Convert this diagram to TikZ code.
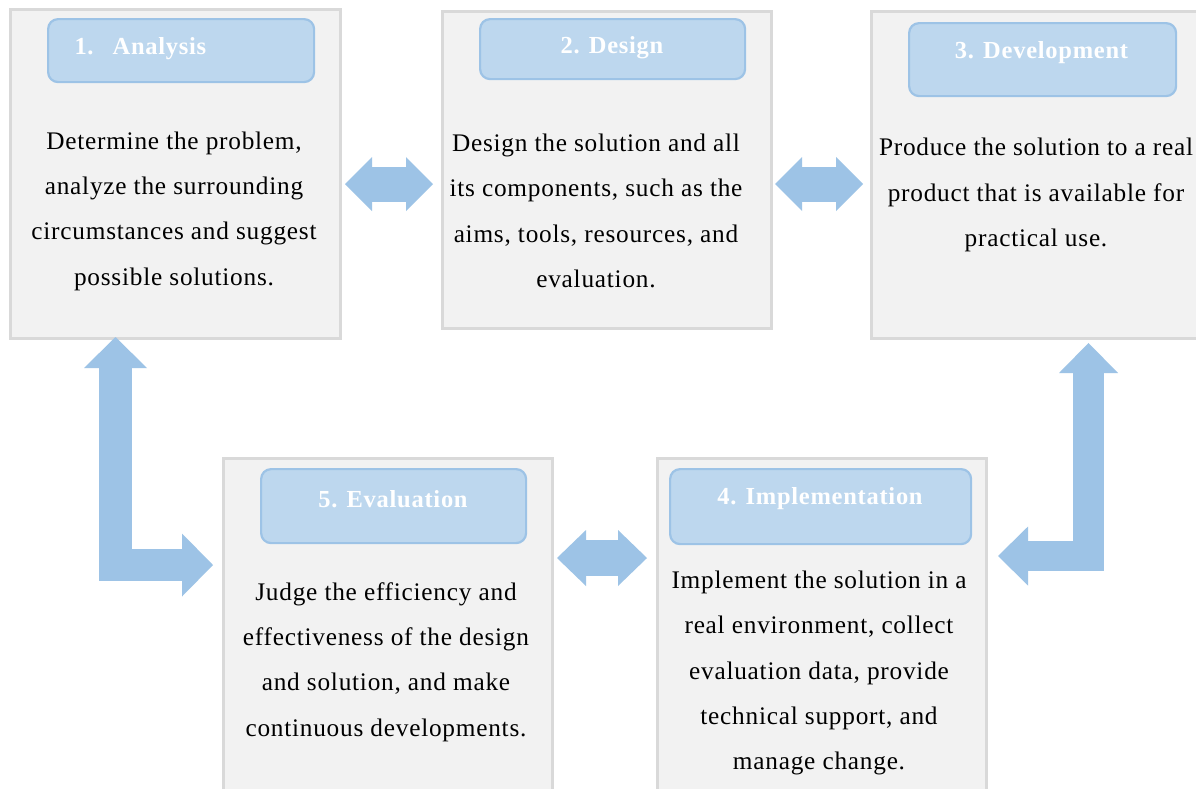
\documentclass[tikz,border=0pt]{standalone}
\usepackage{fontspec}
\setmainfont{Liberation Serif}[LetterSpace=3]
\usetikzlibrary{arrows.meta}
\definecolor{panelfill}{RGB}{242,242,242}
\definecolor{panelline}{RGB}{217,217,217}
\definecolor{headfill}{RGB}{189,215,238}
\definecolor{headline}{RGB}{157,195,230}
\definecolor{flowblue}{RGB}{157,195,230}
\tikzstyle{panel}=[draw=panelline, fill=panelfill, line width=2.5pt, anchor=north west, inner sep=0pt]
\tikzset{heading/.style={draw=headline, fill=headfill, line width=2.2pt, rounded corners=10pt, anchor=north west, inner sep=0pt}}
\tikzset{title/.style={text=white, font=\fontsize{24.5}{29}\selectfont\bfseries}}
\tikzset{body/.style={align=center, font=\fontsize{25.3}{45.3}\selectfont}}
\tikzset{flow/.style={color=flowblue, line width=#1}}

\begin{document}
\begin{tikzpicture}[x=1pt,y=-1pt]
  \useasboundingbox[fill=white] (0,0) rectangle (1196,788);

  %% Panels
  \draw (9,8) node[panel, minimum width=330pt, minimum height=329pt] (ana) {};
  \draw (441,10) node[panel, minimum width=329pt, minimum height=317pt] (des) {};
  \draw (870,10) node[panel, minimum width=340pt, minimum height=327pt] (dev) {};
  \draw (656,457) node[panel, minimum width=329pt, minimum height=350pt] (imp) {};
  \draw (222,457) node[panel, minimum width=329pt, minimum height=350pt] (eva) {};

  %% Headings
  \draw (47,18) node[heading, minimum width=266pt, minimum height=63pt] (anaH) {};
  \draw (479,18) node[heading, minimum width=265pt, minimum height=60pt] (desH) {};
  \draw (908,22) node[heading, minimum width=267pt, minimum height=73pt] (devH) {};
  \draw (669,468) node[heading, minimum width=301pt, minimum height=75pt] (impH) {};
  \draw (260,468) node[heading, minimum width=265pt, minimum height=74pt] (evaH) {};

  \draw (71,49) node[title, anchor=west] (anaT) {1.\hspace{19pt}Analysis};
  \draw (612,48) node[title] (desT) {2. Design};
  \draw (1041.5,53) node[title] (devT) {3. Development};
  \draw (820,499) node[title] (impT) {4. Implementation};
  \draw (393,499) node[title] (evaT) {5. Evaluation};

  %% Texts
  \draw (174,211) node[body] (anaB) {Determine the problem,\\analyze the surrounding\\circumstances and suggest\\possible solutions.};
  \draw (596,211) node[body] (desB) {Design the solution and all\\its components, such as the\\aims, tools, resources, and\\evaluation.};
  \draw (1036,195) node[body] (devB) {Produce the solution to a real\\product that is available for\\practical use.};
  \draw (819,673) node[body] (impB) {Implement the solution in a\\real environment, collect\\evaluation data, provide\\technical support, and\\manage change.};
  \draw (386,662) node[body] (evaB) {Judge the efficiency and\\effectiveness of the design\\and solution, and make\\continuous developments.};

  %% Arrow ends
  \coordinate (a12) at (345,184);
  \coordinate (a21) at (433,184);
  \coordinate (a23) at (775,184);
  \coordinate (a32) at (863,184);
  \coordinate (a54) at (557,558);
  \coordinate (a45) at (647,558);
  \coordinate (a15) at (115.5,337);
  \coordinate (a51) at (213,565);
  \coordinate (a34) at (1088.5,343);
  \coordinate (a43) at (998,556);

  \draw[flow=35pt, >={Triangle[length=27pt,width=54pt,line width=0pt]}, <->] (a12) -- (a21);
  \draw[flow=35pt, >={Triangle[length=27pt,width=54pt,line width=0pt]}, <->] (a23) -- (a32);
  \draw[flow=36pt, >={Triangle[length=29pt,width=56pt,line width=0pt]}, <->] (a54) -- (a45);
  \draw[flow=32.5pt, >={Triangle[length=31pt,width=63pt,line width=0pt]}, <->] (a15) |- (a51);
  \draw[flow=30.5pt, >={Triangle[length=30pt,width=59pt,line width=0pt]}, <->] (a34) |- (a43);
\end{tikzpicture}
\end{document}
